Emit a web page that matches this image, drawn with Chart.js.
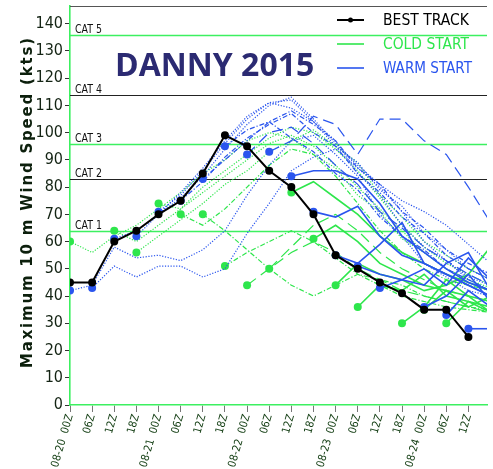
<!DOCTYPE html>
<html lang="en">
  <head>
    <meta charset="UTF-8" />
    <title>Danny 2015 intensity forecasts</title>
    <script src="https://cdn.jsdelivr.net/npm/chart.js"></script>
    <style>
      html, body { margin: 0; padding: 0; background: #fff; }
      #wrap { width: 493px; height: 469px; }
    </style>
  </head>
  <body>
    <div id="wrap"><canvas id="chart" width="493" height="469"></canvas></div>
    <script>
      // x values are 6-hour steps from 08-20 00Z
      const timeLabels = [
        "08-20  00Z", "06Z", "12Z", "18Z",
        "08-21  00Z", "06Z", "12Z", "18Z",
        "08-22  00Z", "06Z", "12Z", "18Z",
        "08-23  00Z", "06Z", "12Z", "18Z",
        "08-24  00Z", "06Z", "12Z"
      ];

      const bestTrack = [45, 45, 60, 64, 70, 75, 85, 99, 95, 86, 80, 70, 55, 50, 45, 41, 35, 35, 25];

      const catLevels = [64, 83, 96, 114, 136];
      const catLabels = ["CAT 1", "CAT 2", "CAT 3", "CAT 4", "CAT 5"];

      // warm start runs (start step, then values every 6 h)
      const w00 = [42, 44, 58, 54, 55, 53, 57, 64, 77, 88, 97, 99, 92, 84, 70, 62, 52, 47, 42, 40];
      const w01 = [43, 51, 47, 51, 51, 47, 50, 63, 74, 86, 91, 94, 87, 80, 71, 60, 53, 46, 42];
      const w02 = [61, 64, 70, 78, 87, 97, 106, 111, 112, 104, 97, 85, 77, 66, 58, 53, 47, 44];
      const w03 = [62, 70, 76, 84, 94, 103, 110, 113, 105, 96, 88, 81, 75, 71, 66, 59, 52];
      const w04 = [71, 77, 86, 96, 105, 111, 109, 104, 95, 89, 79, 73, 63, 57, 50, 46];
      const w05 = [75, 82, 91, 98, 103, 107, 100, 95, 85, 78, 69, 63, 55, 50, 46];
      const w06 = [83, 90, 97, 104, 108, 103, 97, 87, 81, 71, 65, 57, 52, 48];
      const w07 = [95, 101, 104, 98, 93, 85, 79, 69, 62, 57, 50, 46, 42];
      const w08 = [92, 100, 102, 96, 88, 81, 71, 65, 58, 53, 48, 44];
      const w09 = [93, 97, 106, 103, 92, 105, 105, 97, 92, 80, 67];
      const w10 = [84, 86, 86, 83, 74, 62, 56, 50, 45, 42];
      const w11 = [71, 69, 73, 62, 55, 52, 48, 44, 40];
      const w12 = [55, 52, 59, 67, 52, 48, 44, 40];
      const w13 = [51, 48, 46, 44, 52, 56, 42];
      const w14 = [43, 46, 50, 44, 54, 46];
      const w16 = [36, 40, 48, 38];
      const w17 = [33, 42, 36];
      const w18 = [28, 28];
      const warmStarts = [0, 1, 2, 3, 4, 5, 6, 7, 8, 9, 10, 11, 12, 13, 14, 16, 17, 18];
      const warmRuns = [w00, w01, w02, w03, w04, w05, w06, w07, w08, w09, w10, w11, w12, w13, w14, w16, w17, w18];

      // cold start runs
      const c00 = [60, 56, 62, 66, 72, 78, 85, 90, 97, 100, 98, 92, 87, 77, 71, 61, 56, 50, 46, 42];
      const c02 = [64, 60, 66, 72, 78, 84, 90, 96, 99, 95, 88, 80, 72, 64, 56, 50, 46, 43];
      const c03 = [56, 62, 68, 74, 81, 86, 93, 97, 101, 95, 89, 77, 69, 60, 55, 50, 46];
      const c04 = [74, 72, 80, 86, 92, 98, 102, 100, 94, 86, 76, 66, 58, 52, 48, 44];
      const c05 = [70, 66, 72, 80, 88, 94, 92, 84, 74, 64, 56, 50, 46, 44, 42];
      const c06 = [70, 64, 57, 50, 44, 40, 44, 48, 46, 44, 40, 38, 36, 35];
      const c07 = [51, 56, 60, 64, 60, 54, 48, 44, 40, 38, 36, 35, 34];
      const c08 = [44, 50, 56, 60, 56, 50, 46, 42, 40, 38, 36, 34];
      const c09 = [50, 58, 66, 70, 64, 56, 50, 46, 42, 40, 38];
      const c10 = [78, 82, 76, 70, 62, 56, 52, 48, 45, 42];
      const c11 = [61, 66, 60, 52, 48, 44, 42, 40, 38];
      const c12 = [44, 52, 48, 46, 42, 44, 48, 58];
      const c13 = [36, 44, 42, 48, 40, 38, 36];
      const c15 = [30, 36, 46, 40, 34];
      const c16 = [35, 42, 36, 40];
      const c17 = [30, 38, 34];
      const coldStarts = [0, 2, 3, 4, 5, 6, 7, 8, 9, 10, 11, 12, 13, 15, 16, 17];
      const coldRuns = [c00, c02, c03, c04, c05, c06, c07, c08, c09, c10, c11, c12, c13, c15, c16, c17];

      const GREEN = "#2ee64c";
      const BLUE = "#2a55ee";
      const dashFor = {
        dot: [1.2, 1.6],
        dashdot: [5, 2, 1.2, 2],
        longdash: [11, 6],
        solid: []
      };
      function styleFor(start) {
        if (start <= 4) return "dot";
        if (start <= 7) return "dashdot";
        if (start <= 9) return "longdash";
        return "solid";
      }

      function runDataset(start, vals, color) {
        const st = styleFor(start);
        return {
          data: vals.map((v, i) => ({ x: start + i, y: v })),
          borderColor: color,
          backgroundColor: color,
          borderWidth: st === "solid" ? 1.6 : 1.2,
          borderDash: dashFor[st],
          pointRadius: (c) => (c.dataIndex === 0 ? 4 : 0),
          pointBorderWidth: 0,
          pointBackgroundColor: color,
          tension: 0
        };
      }

      const datasets = [
        {
          data: bestTrack.map((v, i) => ({ x: i, y: v })),
          borderColor: "#000",
          backgroundColor: "#000",
          borderWidth: 2,
          pointRadius: 3,
          pointBackgroundColor: "#000",
          tension: 0
        }
      ];
      warmRuns.forEach((r, k) => datasets.push(runDataset(warmStarts[k], r, BLUE)));
      coldRuns.forEach((r, k) => datasets.push(runDataset(coldStarts[k], r, GREEN)));

      const narrow = "'Liberation Sans Narrow', 'DejaVu Sans Condensed', sans-serif";

      // draws text squeezed to a given width
      function fitText(ctx, text, x, y, width) {
        const w = ctx.measureText(text).width;
        ctx.save();
        ctx.translate(x, y);
        ctx.scale(Math.min(1, width / w), 1);
        ctx.fillText(text, 0, 0);
        ctx.restore();
      }

      const decor = {
        id: "decor",
        beforeDatasetsDraw(chart) {
          const { ctx, chartArea: a, scales } = chart;
          ctx.save();
          ctx.strokeStyle = "#555";
          ctx.lineWidth = 1.2;
          ctx.beginPath();
          ctx.moveTo(a.left, a.top + 0.5);
          ctx.lineTo(a.right, a.top + 0.5);
          ctx.stroke();
          ctx.font = "12px " + narrow;
          ctx.textBaseline = "alphabetic";
          catLevels.forEach((lv, i) => {
            const y = Math.round(scales.y.getPixelForValue(lv)) + 0.5;
            ctx.strokeStyle = i % 2 === 0 ? "#3cf060" : "#222";
            ctx.lineWidth = i % 2 === 0 ? 1.6 : 1.1;
            ctx.beginPath();
            ctx.moveTo(a.left, y);
            ctx.lineTo(a.right, y);
            ctx.stroke();
            ctx.fillStyle = "#111";
            fitText(ctx, catLabels[i], a.left + 5, y - 2.5, 27);
          });
          ctx.restore();
        },
        afterDraw(chart) {
          const { ctx } = chart;
          ctx.save();
          ctx.fillStyle = "#2b2a72";
          ctx.font = "bold 32px 'Open Sans', sans-serif";
          ctx.textBaseline = "alphabetic";
          ctx.fillText("DANNY 2015", 115, 76);

          const rows = [
            { t: "BEST TRACK", c: "#000", y: 20 },
            { t: "COLD START", c: GREEN, y: 44 },
            { t: "WARM START", c: BLUE, y: 68 }
          ];
          ctx.font = "16px " + narrow;
          ctx.textBaseline = "middle";
          rows.forEach((r, i) => {
            ctx.strokeStyle = r.c;
            ctx.lineWidth = i === 0 ? 2 : 1.6;
            ctx.beginPath();
            ctx.moveTo(337, r.y);
            ctx.lineTo(364, r.y);
            ctx.stroke();
            if (i === 0) {
              ctx.fillStyle = "#000";
              ctx.beginPath();
              ctx.arc(350.5, r.y, 2.5, 0, Math.PI * 2);
              ctx.fill();
            }
            ctx.fillStyle = r.c;
            fitText(ctx, r.t, 383, r.y + 1, i === 2 ? 89 : 86);
          });

          const title = "Maximum 10 m Wind Speed (kts)";
          ctx.font = "bold 15px 'DejaVu Sans', sans-serif";
          const w0 = ctx.measureText(title).width;
          const sp = Math.max(0, (330 - w0) / (title.length - 1));
          ctx.translate(32, 203);
          ctx.rotate(-Math.PI / 2);
          ctx.fillStyle = "#0c1f0c";
          ctx.textAlign = "left";
          ctx.textBaseline = "alphabetic";
          if ("letterSpacing" in ctx) ctx.letterSpacing = sp + "px";
          ctx.fillText(title, -165, 0);
          ctx.restore();
        }
      };

      new Chart(document.getElementById("chart"), {
        type: "line",
        data: { datasets },
        plugins: [decor],
        options: {
          responsive: false,
          animation: false,
          events: [],
          layout: { padding: { left: 0, top: 5, right: 0, bottom: 0 } },
          plugins: { legend: { display: false }, tooltip: { enabled: false } },
          scales: {
            x: {
              type: "linear",
              min: 0,
              max: 18.84,
              border: { color: "#3cf060", width: 1.6 },
              grid: { drawOnChartArea: false, tickLength: 7, color: "#777" },
              ticks: {
                stepSize: 1,
                includeBounds: false,
                autoSkip: false,
                minRotation: 74,
                maxRotation: 74,
                padding: 1,
                color: "#123d12",
                font: { family: narrow, size: 11 },
                callback: (v) => (Number.isInteger(v) ? timeLabels[v] : "")
              },
              afterFit(s) {
                s.height = 64;
                s.paddingLeft = 0;
                s.paddingRight = 0;
              }
            },
            y: {
              min: 0,
              max: 146.5,
              border: { color: "#3cf060", width: 1.6 },
              grid: { drawOnChartArea: false, tickLength: 5, color: "#333" },
              ticks: {
                stepSize: 10,
                includeBounds: false,
                padding: 2,
                color: "#142414",
                font: { family: narrow, size: 16 }
              },
              afterFit(s) {
                s.width = 70;
                s.paddingTop = 0;
                s.paddingBottom = 0;
              }
            }
          }
        }
      });
    </script>
  </body>
</html>
